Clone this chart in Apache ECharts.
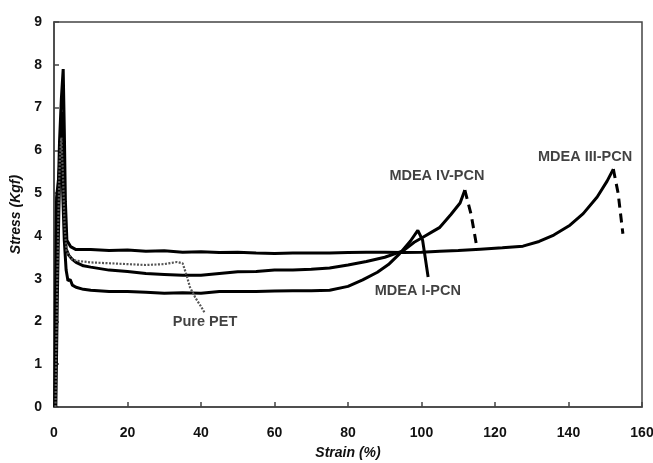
<!DOCTYPE html>
<html><head><meta charset="utf-8">
<script src="https://cdn.jsdelivr.net/npm/echarts@6/dist/echarts.min.js"></script>
<style>html,body{margin:0;padding:0;background:#fff}#c{width:653px;height:463px}</style>
</head><body><div id="c"></div>
<script>
const xTicks = [0,20,40,60,80,100,120,140,160];
const yTicks = [0,1,2,3,4,5,6,7,8,9];

const mdea3 = [[0.3,0],[0.6,2],[1.0,4.5],[1.5,6.2],[2.0,7.2],[2.5,7.9],[2.8,6.5],[3.1,4.8],[3.5,3.9],[4.5,3.75],[6,3.68],[10,3.68],[15,3.66],[20,3.67],[25,3.64],[30,3.65],[35,3.62],[40,3.63],[45,3.61],[50,3.62],[55,3.6],[60,3.59],[65,3.6],[70,3.6],[75,3.6],[80,3.61],[85,3.62],[90,3.62],[95,3.61],[100,3.62],[105,3.64],[110,3.66],[116,3.69],[122,3.72],[127.6,3.76],[132,3.87],[136,4.02],[140.4,4.25],[144,4.52],[147.8,4.91],[150.5,5.28],[152.2,5.56]];
const mdea3Drop = [[152.2,5.56],[153.5,5.0],[154.8,4.05]];

const mdea4 = [[0.5,0],[0.9,2.5],[1.3,4.5],[1.7,6.0],[2.1,6.9],[2.4,6.2],[2.8,4.5],[3.3,3.7],[4,3.55],[5,3.45],[6,3.38],[8,3.3],[10,3.27],[15,3.2],[20,3.17],[25,3.12],[30,3.1],[35,3.08],[40,3.08],[45,3.12],[50,3.16],[55,3.17],[60,3.2],[65,3.2],[70,3.22],[75,3.25],[80,3.32],[85,3.4],[90,3.5],[95,3.65],[98,3.85],[100.4,3.97],[103,4.1],[105,4.2],[108,4.5],[110.5,4.77],[111.8,5.07]];
const mdea4Drop = [[111.8,5.07],[113.5,4.5],[115.1,3.72]];

const mdea1 = [[0.2,0],[0.4,2.5],[0.7,4.9],[1.2,5.3],[1.8,5.9],[2.3,5.2],[2.8,3.9],[3.3,3.2],[3.8,2.95],[4.4,2.98],[5,2.85],[6,2.8],[8,2.75],[10,2.73],[15,2.7],[20,2.7],[25,2.68],[30,2.66],[35,2.67],[40,2.66],[45,2.7],[50,2.7],[55,2.7],[60,2.71],[65,2.72],[70,2.72],[75,2.73],[80,2.82],[84,2.97],[88,3.15],[91,3.33],[94,3.58],[97,3.88],[99,4.13],[100.3,3.9],[101,3.5],[101.8,3.04]];

const purePET = [[0.4,0],[0.8,2.5],[1.2,4.5],[1.6,5.8],[2.0,6.3],[2.4,5.5],[2.9,4.2],[3.4,3.65],[4,3.55],[5,3.45],[6,3.42],[8,3.4],[10,3.38],[15,3.36],[20,3.34],[25,3.32],[30,3.34],[33.5,3.39],[35,3.36],[36,3.1],[37,2.8],[38.5,2.55],[40,2.35],[41,2.2]];

const labelNames = ['MDEA III-PCN','MDEA IV-PCN','MDEA I-PCN','Pure PET'];
const labelPos = [[144.5,5.84],[104.2,5.4],[99,2.71],[41.1,1.99]];

const chart = echarts.init(document.getElementById('c'), null, {renderer:'canvas'});
const solid = (d) => ({type:'line', data:d, showSymbol:false, symbol:'none', smooth:false, lineStyle:{color:'#000', width:3}, z:3});
const dashed = (d) => ({type:'line', data:d, showSymbol:false, symbol:'none', lineStyle:{color:'#000', width:3, type:[9,6]}, z:3});
const font = '"Liberation Sans", Arial, sans-serif';
chart.setOption({
  animation:false,
  backgroundColor:'#fff',
  grid:{left:54, right:11, top:22, bottom:56, outerBoundsMode:'none', containLabel:false, show:true, borderColor:'#444', borderWidth:1.5, backgroundColor:'transparent'},
  xAxis:{type:'value', min:0, max:160, interval:20,
    name:'Strain (%)', nameLocation:'middle', nameGap:39,
    nameTextStyle:{fontFamily:font, fontWeight:'bold', fontStyle:'italic', fontSize:14, color:'#111'},
    axisLine:{show:true, lineStyle:{color:'#444', width:1.5}},
    axisTick:{show:true, inside:true, length:5, lineStyle:{color:'#444', width:1.5}},
    axisLabel:{fontFamily:font, fontWeight:'bold', fontSize:14, color:'#111', margin:19,
      formatter:(v)=> xTicks.includes(v) ? String(v) : ''},
    splitLine:{show:false}},
  yAxis:{type:'value', min:0, max:9, interval:1,
    name:'Stress (Kgf)', nameLocation:'middle', nameGap:29, nameRotate:90,
    nameTextStyle:{fontFamily:font, fontWeight:'bold', fontStyle:'italic', fontSize:14, color:'#111'},
    axisLine:{show:true, lineStyle:{color:'#444', width:1.5}},
    axisTick:{show:true, inside:true, length:5, lineStyle:{color:'#444', width:1.5}},
    axisLabel:{fontFamily:font, fontWeight:'bold', fontSize:14, color:'#111', margin:12,
      formatter:(v)=> yTicks.includes(v) ? String(v) : ''},
    splitLine:{show:false}},
  series:[
    solid(mdea3), dashed(mdea3Drop),
    solid(mdea4), dashed(mdea4Drop),
    solid(mdea1),
    {type:'line', data:purePET, showSymbol:false, symbol:'none', lineStyle:{color:'#555', width:2.2, type:[2,1.5]}, z:4},
    {type:'scatter', symbolSize:0, z:5,
      data: labelPos.map((p,i)=>({value:p, name:labelNames[i]})),
      label:{show:true, position:'inside', formatter:(p)=>p.name, fontFamily:font, fontWeight:'bold', fontSize:14.5, color:'#111'}}
  ]
});
</script></body></html>
